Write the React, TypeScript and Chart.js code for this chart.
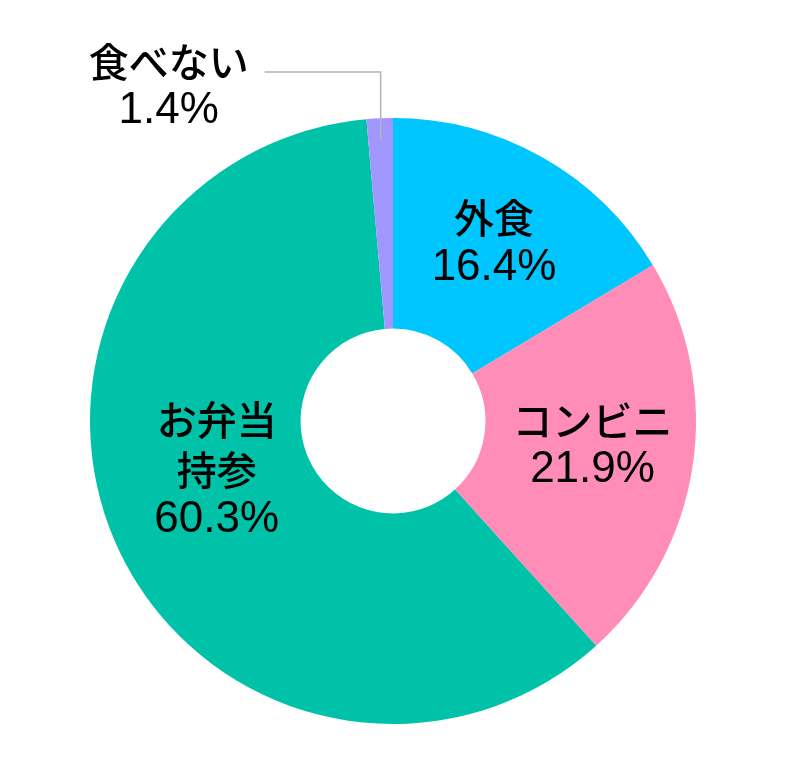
import { useEffect, useRef } from "react";
import { Chart, registerables } from "chart.js";

Chart.register(...registerables);

// categories (multi-line names) and shares in %
const categories: string[][] = [["外食"], ["コンビニ"], ["お弁当", "持参"], ["食べない"]];
const shares = [16.4, 21.9, 60.3, 1.4];
const colors = ["#00C6FF", "#FF8DB8", "#00C2A8", "#A197FF"];

// where each label sits: distance from centre (px) and angle shift (deg); null = callout
const placement: ({ dist: number; shift: number } | null)[] = [
  { dist: 205, shift: 0 },
  { dist: 201, shift: -1.5 },
  { dist: 183, shift: 8 },
  null,
];

const JP_FONT = '500 40px "Noto Sans CJK JP", sans-serif';
const NUM_FONT = '44px "Liberation Sans", Arial, sans-serif';
const LINE_H = 50;

const labelPlugin = {
  id: "sliceLabels",
  afterDatasetsDraw(chart: any) {
    const ctx = chart.ctx as CanvasRenderingContext2D;
    const meta = chart.getDatasetMeta(0);
    ctx.save();
    ctx.textAlign = "center";
    ctx.textBaseline = "middle";
    ctx.fillStyle = "#000";
    meta.data.forEach((arc: any, i: number) => {
      const p = arc.getProps(["x", "y", "startAngle", "endAngle", "outerRadius"], true);
      const mid = (p.startAngle + p.endAngle) / 2;
      const lines = [...categories[i], shares[i].toFixed(1) + "%"];
      const place = placement[i];
      if (place) {
        const a = mid + (place.shift * Math.PI) / 180;
        const cx = p.x + Math.cos(a) * place.dist;
        const cy = p.y + Math.sin(a) * place.dist;
        const top = cy - ((lines.length - 1) * LINE_H) / 2;
        lines.forEach((t, k) => {
          ctx.font = k === lines.length - 1 ? NUM_FONT : JP_FONT;
          ctx.fillText(t, cx, top + k * LINE_H);
        });
      } else {
        // callout with elbow leader line
        const ax = p.x + Math.cos(mid) * (p.outerRadius - 22);
        const ay = p.y + Math.sin(mid) * (p.outerRadius - 22);
        const elbowY = p.y - p.outerRadius - 46;
        const endX = ax - 116;
        ctx.strokeStyle = "#b3b3b3";
        ctx.lineWidth = 1.5;
        ctx.beginPath();
        ctx.moveTo(ax, ay);
        ctx.lineTo(ax, elbowY);
        ctx.lineTo(endX, elbowY);
        ctx.stroke();
        const tx = endX - 96;
        ctx.font = JP_FONT;
        ctx.fillText(lines[0], tx, elbowY - 10);
        ctx.font = NUM_FONT;
        ctx.fillText(lines[1], tx, elbowY + 39);
      }
    });
    ctx.restore();
  },
};

export default function App() {
  const canvasRef = useRef<HTMLCanvasElement>(null);
  const chartRef = useRef<Chart | null>(null);

  useEffect(() => {
    if (!canvasRef.current) return;
    chartRef.current?.destroy();
    chartRef.current = new Chart(canvasRef.current, {
      type: "doughnut",
      data: {
        labels: categories.map((c) => c.join("")),
        datasets: [
          {
            data: shares,
            backgroundColor: colors,
            borderWidth: 0,
          },
        ],
      },
      options: {
        animation: false,
        responsive: true,
        maintainAspectRatio: false,
        cutout: "30.5%",
        layout: { padding: { left: 90, right: 91, top: 118, bottom: 53 } },
        plugins: {
          legend: { display: false },
          tooltip: { enabled: false },
        },
      },
      plugins: [labelPlugin],
    });
    return () => {
      chartRef.current?.destroy();
    };
  }, []);

  return (
    <div style={{ position: "absolute", left: 0, top: 0, width: "787px", height: "777px", background: "#fff" }}>
      <canvas ref={canvasRef} />
    </div>
  );
}
